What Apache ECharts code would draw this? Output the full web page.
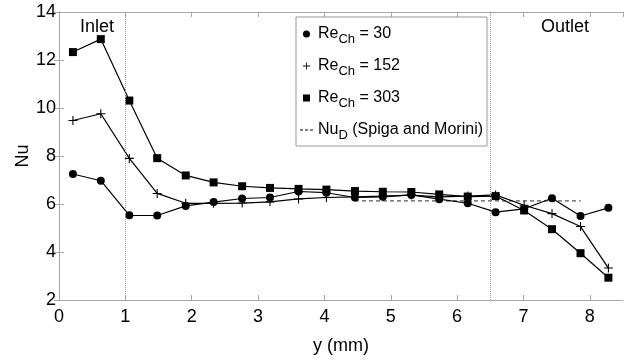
<!DOCTYPE html>
<html>
<head>
<meta charset="utf-8">
<script src="https://cdn.jsdelivr.net/npm/echarts@6/dist/echarts.min.js"></script>
<style>
  html, body { margin: 0; padding: 0; background: #fff; }
  #chart { width: 625px; height: 360px; }
</style>
</head>
<body>
<div id="chart"></div>
<script>
// positions along the channel (mm)
const yPos = [0.21, 0.63, 1.06, 1.48, 1.91, 2.33, 2.76, 3.18, 3.61, 4.03,
              4.46, 4.88, 5.31, 5.73, 6.16, 6.58, 7.01, 7.43, 7.86, 8.28];
const nu30 = [7.25, 6.97, 5.53, 5.52, 5.92, 6.08, 6.23, 6.27, 6.52, 6.47,
              6.27, 6.3, 6.38, 6.2, 6.03, 5.66, 5.8, 6.24, 5.5, 5.84];
const nu152 = [9.48, 9.76, 7.9, 6.44, 6.03, 6.03, 6.04, 6.09, 6.21, 6.27,
               6.3, 6.33, 6.37, 6.3, 6.33, 6.38, 5.95, 5.6, 5.06, 3.33];
const nu303 = [12.33, 12.87, 10.31, 7.91, 7.19, 6.9, 6.74, 6.67, 6.63, 6.6,
               6.54, 6.51, 6.5, 6.4, 6.31, 6.33, 5.73, 4.95, 3.95, 2.93];
const nuDx = [4.46, 7.86];
const nuDy = [6.13, 6.13];
const dividers = [1, 6.5];
const xTicks = { min: 0, max: 8.5, interval: 1 };
const yTicks = { min: 2, max: 14, interval: 2 };

const plus = 'path://M4.4,0H5.6V4.4H10V5.6H5.6V10H4.4V5.6H0V4.4H4.4Z';
const square = 'path://M0,0H10V10H0Z';
const dot = 'path://M5,0A5,5 0 1,1 4.99,0Z';
const dashes = 'path://M0,0H3V1H0Z M5,0H8V1H5Z M10,0H13V1H10Z';
const font = 'Liberation Sans, Arial, Helvetica, sans-serif';

const pairs = (ys) => yPos.map((x, i) => [x, ys[i]]);

const chart = echarts.init(document.getElementById('chart'), null, { renderer: 'canvas' });

const axisLine = { lineStyle: { color: '#a8a8a8', width: 1 } };
const tick = { inside: true, length: 5, lineStyle: { color: '#a8a8a8' } };

const labels = {
  Re30: '{a|Re}{s|Ch}{a| = 30}',
  Re152: '{a|Re}{s|Ch}{a| = 152}',
  Re303: '{a|Re}{s|Ch}{a| = 303}',
  NuD: '{a|Nu}{s|D}{a| (Spiga and Morini)}'
};

const lineSeries = (name, ys, symbol, size) => ({
  name,
  type: 'line',
  data: pairs(ys),
  symbol,
  symbolSize: size,
  showAllSymbol: true,
  lineStyle: { color: '#000', width: 1.2 },
  itemStyle: { color: '#000' }
});

chart.setOption({
  animation: false,
  textStyle: { fontFamily: font },
  grid: { left: 59, right: 2, top: 12, bottom: 51 },
  xAxis: [
    {
      type: 'value', ...xTicks,
      name: 'y (mm)', nameLocation: 'middle', nameGap: 37,
      nameTextStyle: { fontSize: 18, color: '#000', fontFamily: font },
      axisLine, axisTick: tick, splitLine: { show: false },
      axisLabel: { color: '#000', fontSize: 18, margin: 8, fontFamily: font,
                   showMaxLabel: false }
    },
    {
      type: 'value', ...xTicks, position: 'top',
      axisLine, axisTick: tick, splitLine: { show: false },
      axisLabel: { show: false }
    }
  ],
  yAxis: [
    {
      type: 'value', ...yTicks,
      name: 'Nu', nameLocation: 'middle', nameGap: 27, nameMoveOverlap: false,
      nameTextStyle: { fontSize: 18, color: '#000', fontFamily: font },
      axisLine, axisTick: tick, splitLine: { show: false },
      axisLabel: { color: '#000', fontSize: 18, margin: 3, fontFamily: font }
    },
    {
      type: 'value', ...yTicks, position: 'right',
      axisLine, axisTick: tick, splitLine: { show: false },
      axisLabel: { show: false }
    }
  ],
  legend: {
    orient: 'vertical',
    left: 296, top: 17,
    padding: [5, 4, 4, 4],
    itemGap: 8,
    itemWidth: 13, itemHeight: 7,
    borderColor: '#999', borderWidth: 1,
    backgroundColor: '#fff',
    data: [
      { name: 'Re30', icon: dot },
      { name: 'Re152', icon: plus },
      { name: 'Re303', icon: square },
      { name: 'NuD', icon: dashes }
    ],
    formatter: (name) => labels[name],
    textStyle: {
      color: '#000',
      fontWeight: 'normal',
      rich: {
        a: { fontSize: 16, color: '#000', fontWeight: 'normal', fontFamily: font, lineHeight: 24 },
        s: { fontSize: 13, color: '#000', fontWeight: 'normal', fontFamily: font, lineHeight: 24,
             padding: [11, 0, 0, 0] }
      }
    }
  },
  graphic: [
    { type: 'text', left: 80, top: 18,
      style: { text: 'Inlet', font: '18px ' + font, fill: '#000' } },
    { type: 'text', left: 541, top: 18,
      style: { text: 'Outlet', font: '18px ' + font, fill: '#000' } }
  ],
  series: [
    {
      ...lineSeries('Re30', nu30, 'circle', 8),
      markLine: {
        silent: true,
        symbol: 'none',
        label: { show: false },
        lineStyle: { type: 'dotted', color: '#999', width: 1 },
        data: dividers.map((x) => ({ xAxis: x }))
      }
    },
    lineSeries('Re152', nu152, plus, 9),
    lineSeries('Re303', nu303, 'rect', 8),
    {
      name: 'NuD',
      type: 'line',
      data: nuDx.map((x, i) => [x, nuDy[i]]),
      symbol: 'none',
      z: 1,
      lineStyle: { color: '#555', width: 1.2, type: [4, 3] },
      itemStyle: { color: '#000' }
    }
  ]
});
</script>
</body>
</html>
